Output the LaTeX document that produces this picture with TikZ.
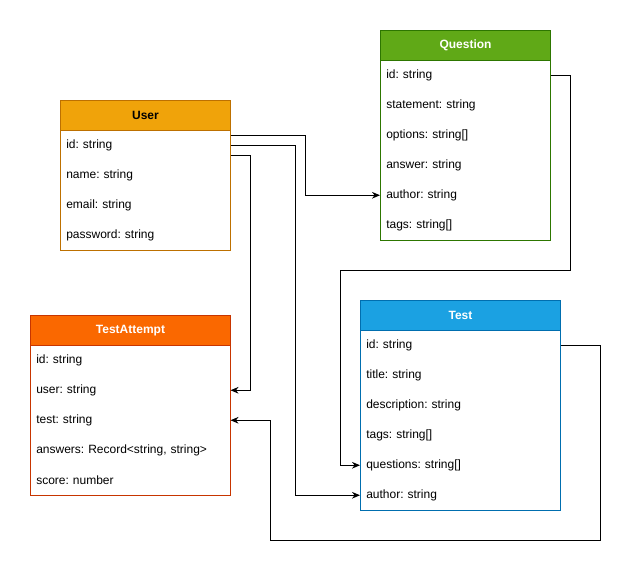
\documentclass[tikz,border=0pt]{standalone}
\usepackage{fontspec}
\setmainfont{Liberation Sans}
\usetikzlibrary{calc}
\usetikzlibrary{arrows.meta}
\frenchspacing

\definecolor{userfill}{HTML}{F0A30A}
\definecolor{userline}{HTML}{BD7000}
\definecolor{questfill}{HTML}{60A917}
\definecolor{questline}{HTML}{2D7600}
\definecolor{attemptfill}{HTML}{FA6800}
\definecolor{attemptline}{HTML}{C73500}
\definecolor{testfill}{HTML}{1BA1E2}
\definecolor{testline}{HTML}{006EAF}

\tikzset{
  classbox/.style={draw, anchor=north west, inner sep=0pt, line width=0.75pt},
  classhead/.style={draw, anchor=north west, inner sep=0pt, line width=0.75pt, minimum height=22.5pt, font=\bfseries\fontsize{9}{11}\selectfont},
  row/.style={anchor=north west, inner xsep=4.5pt, inner ysep=0pt, minimum height=22.5pt, text width=#1, align=left, font=\fontsize{9}{11}\selectfont},
  link/.style={-{Stealth[length=6pt,width=5pt]}, line width=0.75pt}
}

\begin{document}
\begin{tikzpicture}[x=0.75pt, y=-0.75pt]
\useasboundingbox (0,0) rectangle (640,580);

% User
\node[classbox, draw=userline, minimum width=127.5pt, minimum height=112.5pt] (user-box) at (60,100) {};
\node[classhead, draw=userline, fill=userfill, minimum width=127.5pt] (user) at (60,100) {User};
\foreach \f [count=\i] in {id: string, name: string, email: string, password: string}
  \node[row=118.5pt] (user-\i) at (60,100+30*\i) {\f};

% Question
\node[classbox, draw=questline, minimum width=127.5pt, minimum height=157.5pt] (question-box) at (380,30) {};
\node[classhead, draw=questline, fill=questfill, text=white, minimum width=127.5pt] (question) at (380,30) {Question};
\foreach \f [count=\i] in {id: string, statement: string, options: string[], answer: string, author: string, tags: string[]}
  \node[row=118.5pt] (question-\i) at (380,30+30*\i) {\f};

% TestAttempt
\node[classbox, draw=attemptline, minimum width=150pt, minimum height=135pt] (attempt-box) at (30,315) {};
\node[classhead, draw=attemptline, fill=attemptfill, text=white, minimum width=150pt] (attempt) at (30,315) {TestAttempt};
\foreach \f [count=\i] in {id: string, user: string, test: string, {answers: Record<string, string>}, score: number}
  \node[row=141pt] (attempt-\i) at (30,315+30*\i) {\f};

% Test
\node[classbox, draw=testline, minimum width=150pt, minimum height=157.5pt] (test-box) at (360,300) {};
\node[classhead, draw=testline, fill=testfill, text=white, minimum width=150pt] (test) at (360,300) {Test};
\foreach \f [count=\i] in {id: string, title: string, description: string, tags: string[], questions: string[], author: string}
  \node[row=141pt] (test-\i) at (360,300+30*\i) {\f};

% links
\draw[link] ($(user-1.east)+(0,-10)$) -- ++(75,0) |- (question-5.west);
\draw[link] (user-1.east) -- ++(65,0) |- (test-6.west);
\draw[link] ($(user-1.east)+(0,10)$) -- ++(20,0) |- (attempt-2.east);
\draw[link] (question-1.east) -- ++(20,0) -- ++(0,195) -| ($(test-5.west)+(-20,0)$) -- (test-5.west);
\draw[link] (test-1.east) -- ++(40,0) -- ++(0,195) -| ($(attempt-3.east)+(40,0)$) -- (attempt-3.east);

\end{tikzpicture}
\end{document}
